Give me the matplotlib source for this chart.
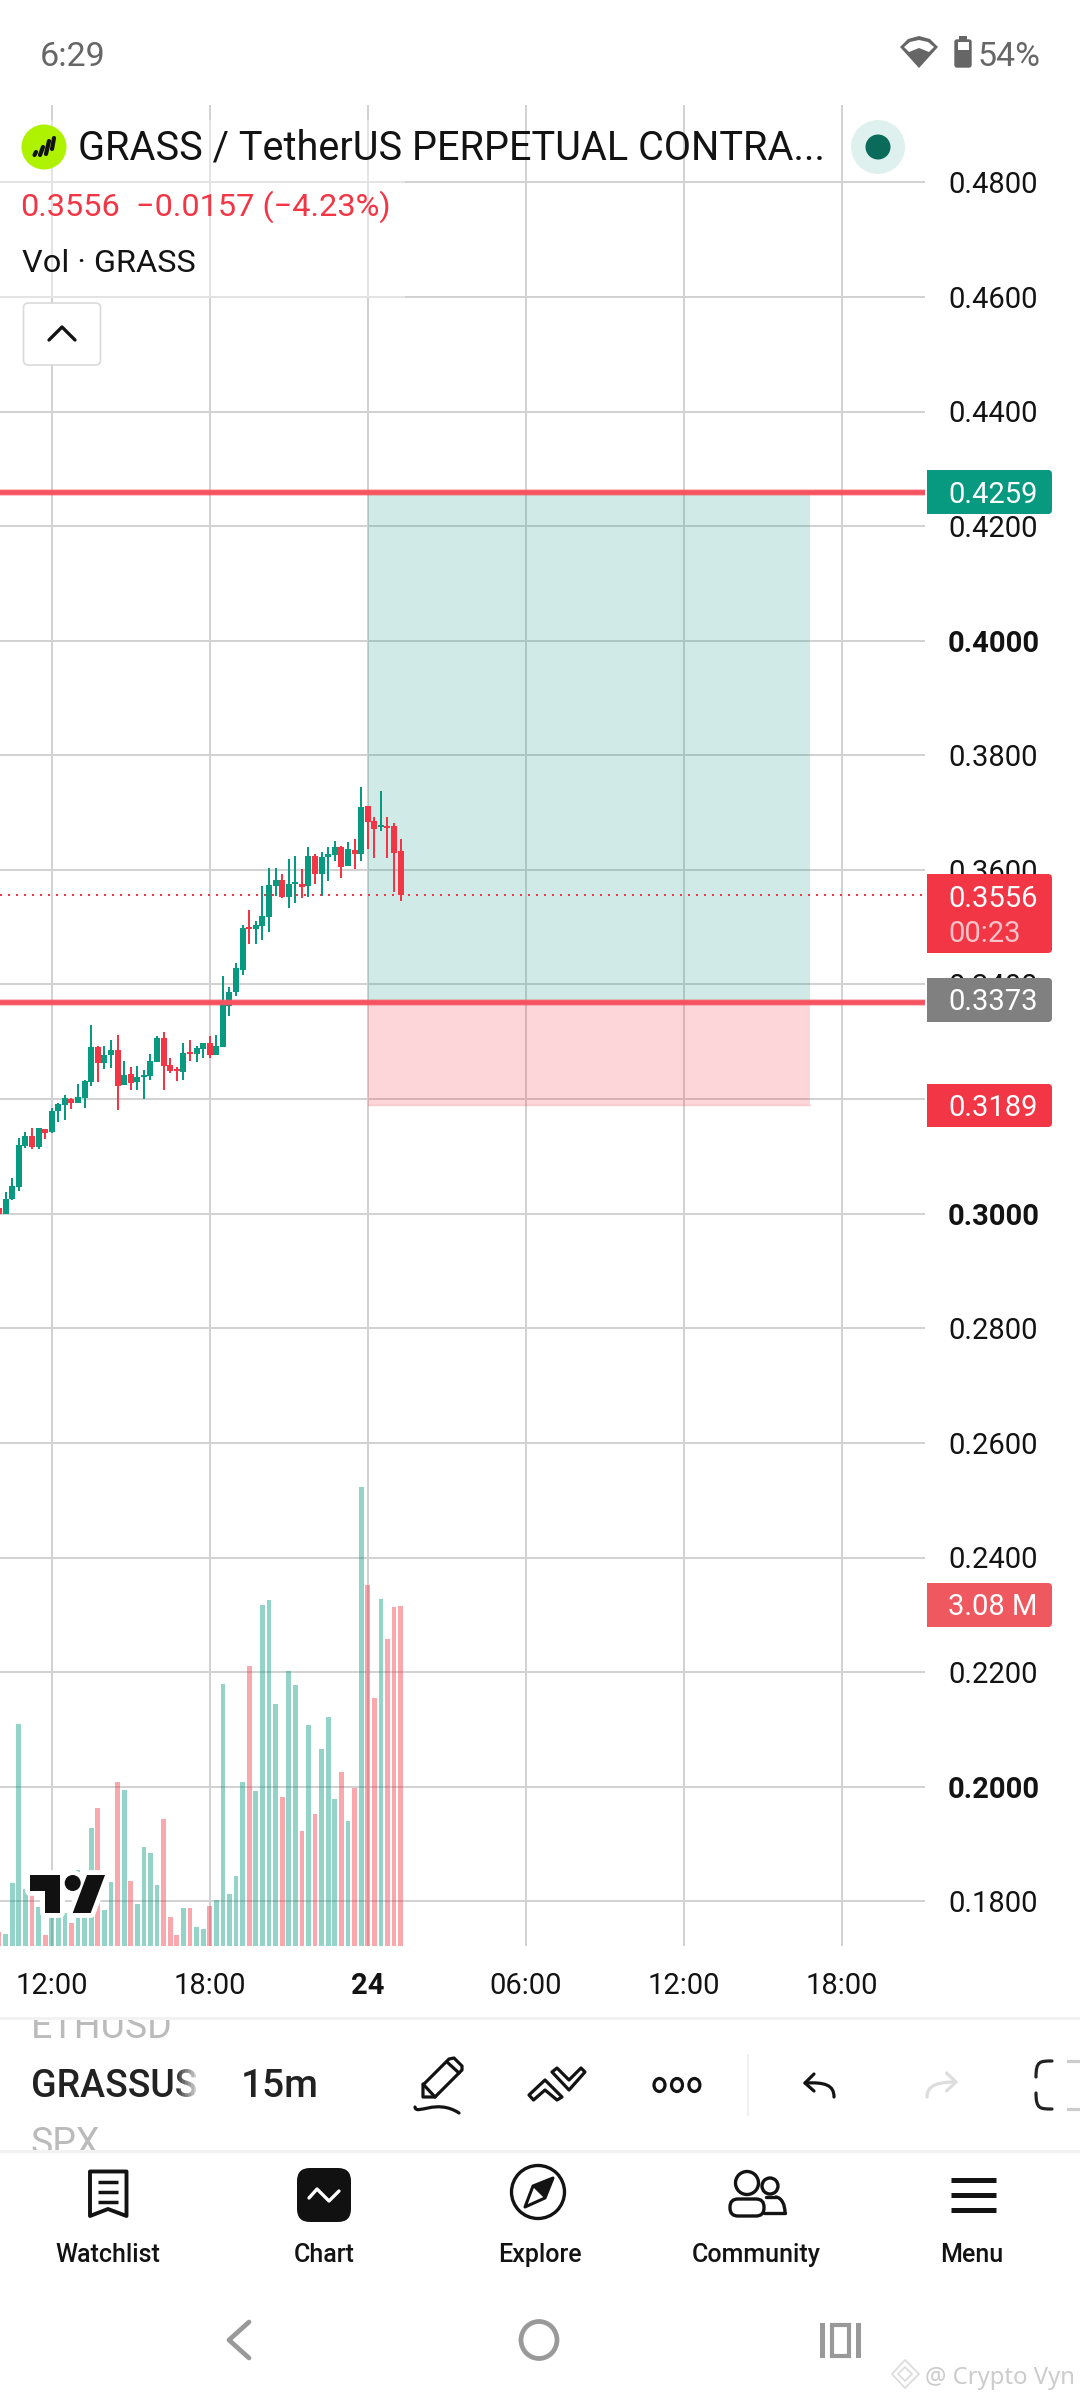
import matplotlib
matplotlib.use("Agg")
import matplotlib.pyplot as plt
from matplotlib.patches import Rectangle, Circle, Ellipse, Polygon, FancyBboxPatch, PathPatch
from matplotlib.path import Path
from matplotlib.transforms import ScaledTranslation

plt.rcParams['font.family'] = ['Roboto', 'DejaVu Sans']

# ---------- data ----------
opens = [.3010,.3000,.3026,.3047,.3118,.3136,.3116,.3148,.3143,.3179,.3190,.3200,.3193,.3202,.3230,.3291,
         .3263,.3277,.3286,.3225,.3244,.3230,.3238,.3240,.3265,.3307,.3259,.3252,.3247,.3282,.3279,.3287,
         .3298,.3277,.3291,.3362,.3387,.3425,.3500,.3497,.3502,.3518,.3572,.3582,.3553,.3575,.3575,.3572,
         .3624,.3593,.3622,.3626,.3640,.3607,.3635,.3628,.3711,.3685,.3675,.3677,.3677,.3633]
highs = [.3010,.3038,.3062,.3132,.3143,.3149,.3149,.3148,.3184,.3193,.3207,.3202,.3226,.3233,.3329,.3293,
         .3293,.3303,.3312,.3266,.3256,.3258,.3251,.3279,.3310,.3317,.3272,.3256,.3298,.3303,.3293,.3298,
         .3310,.3312,.3415,.3396,.3437,.3504,.3530,.3511,.3572,.3603,.3603,.3593,.3619,.3624,.3601,.3640,
         .3628,.3631,.3640,.3650,.3642,.3649,.3654,.3745,.3711,.3692,.3738,.3692,.3682,.3654]
lows = [.3000,.3000,.3024,.3040,.3115,.3113,.3113,.3130,.3141,.3160,.3163,.3183,.3193,.3184,.3223,.3230,
        .3252,.3254,.3181,.3225,.3216,.3216,.3200,.3233,.3265,.3216,.3245,.3232,.3233,.3266,.3265,.3272,
        .3272,.3277,.3291,.3345,.3380,.3417,.3471,.3471,.3478,.3492,.3554,.3551,.3533,.3542,.3551,.3553,
        .3575,.3554,.3581,.3615,.3586,.3607,.3601,.3615,.3636,.3621,.3668,.3621,.3561,.3546]
closes = [.3000,.3026,.3048,.3120,.3136,.3116,.3149,.3141,.3179,.3191,.3202,.3193,.3204,.3232,.3291,.3263,
          .3277,.3286,.3223,.3242,.3228,.3238,.3242,.3266,.3307,.3258,.3249,.3249,.3280,.3279,.3289,.3298,
          .3277,.3293,.3366,.3387,.3429,.3499,.3497,.3504,.3519,.3574,.3582,.3553,.3575,.3579,.3570,.3624,
          .3593,.3622,.3628,.3640,.3605,.3636,.3628,.3710,.3684,.3671,.3678,.3673,.3629,.3556]
volumes_m = [.13,.11,.57,2.01,.52,.46,.35,.10,.28,.36,.30,.21,.69,.40,1.07,1.25,.33,.58,1.49,1.41,.59,.38,
             .90,.84,.55,1.15,.26,.10,.34,.34,.17,.15,.36,.42,2.37,.47,.63,1.49,2.54,1.40,3.09,3.13,2.19,
             1.35,2.49,2.36,1.04,2.00,1.20,1.78,2.07,1.33,1.58,1.13,1.43,4.16,3.27,2.25,3.14,2.78,3.07,3.08]

price_ticks = [.18,.20,.22,.24,.26,.28,.30,.32,.34,.36,.38,.40,.42,.44,.46,.48]
bold_prices = [.20,.30,.40]
time_ticks = [8, 32, 56, 80, 104, 128]
time_labels = ['12:00', '18:00', '24', '06:00', '12:00', '18:00']

last_price = 0.3556
target_price = 0.4259
entry_label = 0.3373
entry_line = 0.3370
stop_price = 0.3189
box_start, box_end = 56, 123.2

GREEN = '#089981'
RED = '#F23645'
INK = '#131313'
W, H = 1080, 2400

# ---------- figure / axes ----------
fig = plt.figure(figsize=(W/100, H/100), dpi=100, facecolor='white')
L, R, T, B = 0, 925, 105, 1946
rect = [L/W, (H-B)/H, (R-L)/W, (B-T)/H]

ax = fig.add_axes(rect, zorder=1)
ax.set_ylim(.30-(B-1213.7)/5730, .30+(1213.7-T)/5730)
ax.set_xlim(0.14, 0.14+925/6.583)
for s in ax.spines.values():
    s.set_visible(False)
ax.set_axisbelow(True)
ax.grid(True, color='#d2d2d2', lw=1.44)
ax.yaxis.tick_right()
ax.set_yticks(price_ticks)
ax.set_yticklabels([f'{p:.4f}' for p in price_ticks], fontsize=21, color=INK)
down = ScaledTranslation(0, -1.5/100, fig.dpi_scale_trans)
for lab, p in zip(ax.get_yticklabels(), price_ticks):
    lab.set_transform(lab.get_transform() + down)
    if p in bold_prices:
        lab.set_fontweight('bold')
ax.set_xticks(time_ticks)
ax.set_xticklabels(time_labels, fontsize=21, color=INK)
ax.get_xticklabels()[2].set_fontweight('bold')
ax.tick_params(axis='y', length=0, pad=16.6)
ax.tick_params(axis='x', length=0, pad=19)

# position tool
ax.fill_between([box_start, box_end], entry_line, target_price, color=GREEN, alpha=.19, lw=0, zorder=2)
ax.fill_between([box_start, box_end], stop_price, entry_line, color=RED, alpha=.2, lw=0, zorder=2)
ax.plot([box_start, box_end], [stop_price, stop_price], color=RED, alpha=.25, lw=1, zorder=2)

idx = list(range(len(opens)))
cols = [GREEN if c >= o else RED for o, c in zip(opens, closes)]
ax.vlines(idx, lows, highs, colors=cols, lw=1.44, zorder=4)
ax.bar(idx, [abs(c-o) for o, c in zip(opens, closes)], bottom=[min(o, c) for o, c in zip(opens, closes)],
       width=.91, color=cols, lw=0, zorder=4)

# red horizontal levels and last price
for lv in (target_price, entry_line):
    ax.axhline(lv, color='#F7525F', lw=5, alpha=.35, zorder=5)
    ax.axhline(lv, color='#F7525F', lw=3.4, zorder=5)
ax.axhline(last_price, color=RED, lw=1.44, dashes=(1, 3), zorder=3)

# volume pane
axv = fig.add_axes(rect, zorder=2, sharex=ax)
axv.patch.set_alpha(0)
axv.set_ylim(0, (B-T)/110.4)
axv.axis('off')
axv.bar(idx, volumes_m, width=.72, color=cols, alpha=.43, lw=0)

# ---------- overlay in screen pixels ----------
ui = fig.add_axes([0, 0, 1, 1], zorder=5)
ui.set_xlim(0, W)
ui.set_ylim(H, 0)
ui.axis('off')
ui.patch.set_alpha(0)


def text(x, y, s, size, color=INK, ha='left', weight='normal', **kw):
    return ui.text(x, y, s, fontsize=size, color=color, ha=ha, va='baseline', fontweight=weight, **kw)


def clipped(t, x, y, w, h):
    t.set_clip_path(Rectangle((x, y), w, h, transform=ui.transData))
    t.set_clip_on(True)


def stroke(pts, color=INK, lw=2, z=6, closed=False):
    xs = [p[0] for p in pts]
    ys = [p[1] for p in pts]
    if closed:
        ui.add_patch(Polygon(pts, closed=True, fc='none', ec=color, lw=lw, joinstyle='round', zorder=z))
    else:
        ui.plot(xs, ys, color=color, lw=lw, solid_capstyle='round', solid_joinstyle='round', zorder=z)


def curve(pts, color=INK, lw=2, z=6):
    codes = [Path.MOVETO] + [Path.CURVE4]*(len(pts)-1)
    ui.add_patch(PathPatch(Path(pts, codes), fc='none', ec=color, lw=lw, capstyle='round', zorder=z))


def price_box(y0, y1, color):
    ui.add_patch(FancyBboxPatch((927, y0), 1052-927, y1-y0, boxstyle='round,pad=0,rounding_size=4',
                                fc=color, ec='none', lw=0, zorder=3))
    ui.add_patch(Rectangle((927, y0), 20, y1-y0, fc=color, ec='none', lw=0, zorder=3))


# header backdrop
ui.add_patch(Rectangle((0, 120), 405, 178, fc='white', ec='none', alpha=.4, zorder=1))

# status bar
text(40, 66, '6:29', 24.5, '#666666')
text(977, 66, '54%', 24.5, '#666666')
ui.add_patch(FancyBboxPatch((955, 40), 16, 27, boxstyle='round,pad=0,rounding_size=2', fc='#666666', ec='#666666', lw=1))
ui.add_patch(Rectangle((959, 36), 8, 5, fc='#666666', ec='none'))
ui.add_patch(Rectangle((957.5, 42), 11, 8, fc='white', ec='none'))
ui.add_patch(Polygon([(900, 47), (908, 39), (919, 36), (930, 39), (938, 47), (919, 68)], closed=True, fc='#666666', ec='none'))
ui.add_patch(Polygon([(904, 47), (910, 42), (919, 40), (928, 42), (934, 47), (929, 52), (919, 48), (909, 52)], closed=True, fc='white', ec='none'))

# header
ui.add_patch(Circle((44, 147), 22.5, fc='#AEF200', ec='none'))
for seg in ([(34.5, 155), (36, 152)], [(40, 155), (43, 147)], [(46, 154), (49, 141)], [(52, 149), (54, 138)]):
    stroke(seg, color='#111111', lw=3)
text(78, 160, 'GRASS / TetherUS PERPETUAL CONTRA...', 28.5, INK)
ui.add_patch(Circle((878, 147), 27, fc='#DFF1EE', ec='none'))
ui.add_patch(Ellipse((878, 147), 25, 25, fc='#0A6B5A', ec='none'))
text(20, 216, f'{last_price:.4f}', 23.4, RED)
text(136, 216, '\u22120.0157 (\u22124.23%)', 23.4, RED)
text(22, 272, 'Vol \u00b7 GRASS', 23.4, INK)
ui.add_patch(FancyBboxPatch((23.5, 303), 77, 62, boxstyle='round,pad=0,rounding_size=5', fc='white', ec='#DADADA', lw=1.2))
stroke([(49, 340), (62, 327), (75, 340)], lw=2.4)

# price labels
price_box(470, 514, GREEN)
text(948, 503, f'{target_price:.4f}', 21, 'white')
price_box(874, 953, RED)
text(948, 907, f'{last_price:.4f}', 21, 'white')
text(948, 942, '00:23', 21, '#FBC3C8')
price_box(978, 1022, '#808080')
text(948, 1010, f'{entry_label:.4f}', 21, 'white')
price_box(1084, 1127, RED)
text(948, 1116, f'{stop_price:.4f}', 21, 'white')
price_box(1583, 1627, '#F0585F')
text(948, 1615, f'{volumes_m[-1]:.2f} M', 21, 'white')

# TradingView logo
tv_t = [(30, 1875), (60, 1875), (60, 1913), (45, 1913), (45, 1891), (30, 1891)]
tv_s = [(87, 1875), (105, 1875), (90.7, 1913), (72.7, 1913)]
for pts in (tv_t, tv_s):
    ui.add_patch(Polygon(pts, closed=True, fc='white', ec='white', lw=7, joinstyle='round', zorder=2))
ui.add_patch(Circle((72.7, 1883), 8, fc='white', ec='white', lw=7, zorder=2))
for pts in (tv_t, tv_s):
    ui.add_patch(Polygon(pts, closed=True, fc='#111111', ec='none', zorder=3))
ui.add_patch(Circle((72.7, 1883), 8, fc='#111111', ec='none', zorder=3))

# toolbar
ui.plot([0, W], [2018, 2018], color='#F2F2F2', lw=2.2, zorder=7)
ui.plot([0, W], [2151, 2151], color='#F2F2F2', lw=2.2, zorder=7)
clipped(text(31, 2038, 'ETHUSD', 27, '#BBBBBB'), 0, 2020, 400, 30)
clipped(text(31, 2155, 'SPX', 27, '#BBBBBB'), 0, 2120, 400, 30)
clipped(text(31, 2097, 'GRASSUSDT.P', 27, '#222222', weight='medium'), 0, 2060, 200, 50)
for i in range(8):
    ui.add_patch(Rectangle((176+i*3, 2060), 3, 50, fc='white', ec='none', alpha=(i+1)/9, zorder=4))
text(241, 2097, '15m', 28, '#222222', weight='medium')

# pen
stroke([(423, 2085), (449, 2059), (454, 2058), (462, 2066), (462, 2070), (435, 2097), (423, 2097)], lw=2.3, closed=True)
stroke([(423, 2084), (435, 2097)], lw=2.3)
stroke([(447, 2062), (459, 2073)], lw=2.3)
curve([(415, 2107), (416, 2116), (436, 2098), (459, 2113)], lw=2.3)
# chevrons
stroke([(529, 2095), (545, 2080), (562, 2097), (557, 2100), (545, 2090), (533.5, 2100)], lw=2.3, closed=True)
stroke([(552, 2072), (557, 2068), (569, 2080), (581, 2068), (585, 2072), (569, 2090)], lw=2.3, closed=True)
# more
for cx in (659.5, 677, 694.4):
    ui.add_patch(Ellipse((cx, 2085), 11, 13, fc='none', ec=INK, lw=2.3))
ui.plot([748, 748], [2055, 2115], color='#F0F0F0', lw=1.5)
# undo / redo
stroke([(814, 2074), (805, 2083), (814, 2091)], lw=2.3)
curve([(805, 2083), (825, 2082), (834, 2085), (834, 2097)], lw=2.3)
stroke([(946.5, 2073), (956, 2082), (946.5, 2091)], color='#DDDDDD', lw=2.3)
curve([(956, 2082), (938, 2082), (927, 2085), (927, 2097)], color='#DDDDDD', lw=2.3)
# fullscreen
curve([(1052, 2061), (1040, 2061), (1036, 2061), (1036, 2077)], color='#222222', lw=2.3)
curve([(1036, 2093), (1036, 2109), (1040, 2109), (1052, 2109)], color='#222222', lw=2.3)
ui.plot([1068, 1080], [2061, 2061], color='#CCCCCC', lw=2.3)
ui.plot([1068, 1080], [2109, 2109], color='#CCCCCC', lw=2.3)

# bottom nav: watchlist
stroke([(90, 2171.5), (126.5, 2171.5), (126.5, 2216), (108, 2209), (90, 2216)], lw=2.8, closed=True)
for yy in (2182, 2192, 2202):
    ui.plot([98, 118], [yy, yy], color=INK, lw=2.5, solid_capstyle='butt')
# chart
ui.add_patch(FancyBboxPatch((297, 2168), 54, 54, boxstyle='round,pad=0,rounding_size=13', fc='#111111', ec='none'))
stroke([(309, 2198), (317, 2189), (329, 2201), (339, 2191)], color='white', lw=2.4)
# compass
ui.add_patch(Ellipse((538, 2192), 53, 53, fc='none', ec=INK, lw=2.4))
stroke([(553, 2178), (545, 2198), (525, 2207), (533, 2186)], lw=2.2, closed=True)
ui.add_patch(Polygon([(553, 2178), (545, 2198), (533, 2186)], closed=True, fc=INK, ec=INK, lw=1))
# community
ui.add_patch(Circle((747, 2183), 11.5, fc='none', ec=INK, lw=2.4))
ui.add_patch(Circle((770, 2186), 8, fc='none', ec=INK, lw=2.4))
ui.add_patch(FancyBboxPatch((730, 2199), 34, 17, boxstyle='round,pad=0,rounding_size=8', fc='white', ec=INK, lw=2.4, zorder=5))
stroke([(766, 2197), (776, 2197)], lw=2.4)
curve([(776, 2197), (782, 2198), (785, 2205), (785, 2213)], lw=2.4)
stroke([(785, 2213), (764, 2213)], lw=2.4)
# menu
for yy in (2180, 2195, 2210):
    ui.plot([951, 996], [yy, yy], color=INK, lw=3.6, solid_capstyle='butt')
for x, s in ((108, 'Watchlist'), (324, 'Chart'), (540, 'Explore'), (756, 'Community'), (972, 'Menu')):
    text(x, 2262, s, 18, INK, ha='center', weight='medium')

# android nav
stroke([(249, 2322), (229, 2340), (249, 2358)], color='#999999', lw=3.4)
ui.add_patch(Ellipse((539, 2340), 36, 37, fc='none', ec='#999999', lw=3.4))
ui.add_patch(Rectangle((820, 2323), 5, 35, fc='#999999', ec='none'))
ui.add_patch(Rectangle((856, 2323), 5, 35, fc='#999999', ec='none'))
ui.add_patch(Rectangle((832, 2325), 17, 31, fc='none', ec='#999999', lw=3))

# watermark
text(925, 2384, '@ Crypto Vyn', 17.2, '#CCCCCC', family=['Noto Sans', 'DejaVu Sans'])
stroke([(905, 2360), (919, 2374), (905, 2388), (892, 2374)], color='#DDDDDD', lw=1.3, closed=True)
stroke([(905, 2367), (912, 2374), (905, 2381), (898, 2374)], color='#DDDDDD', lw=1.3, closed=True)

fig.savefig('out.png', dpi=100, facecolor='white')
